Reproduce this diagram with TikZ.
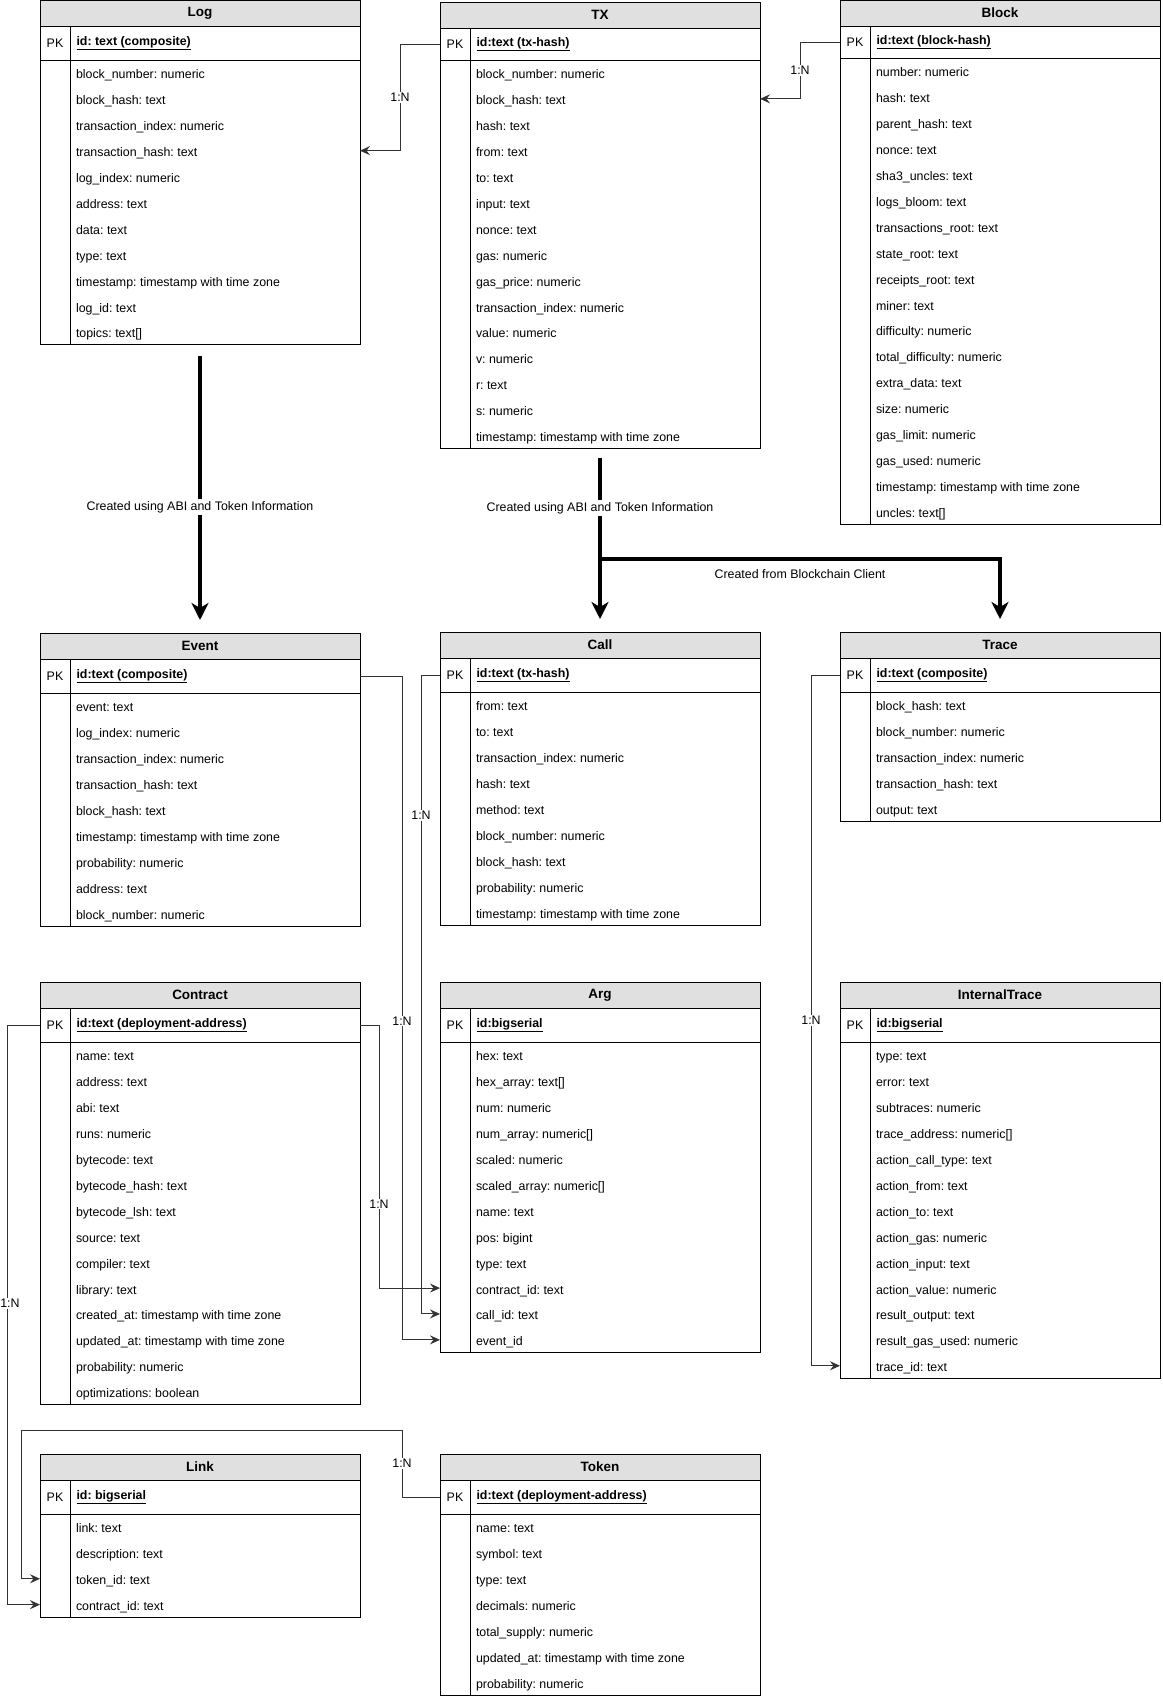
\documentclass[tikz,border=0pt]{standalone}
\usepackage{fontspec}
\setmainfont{Liberation Sans}
\usepackage{xcolor}
\usetikzlibrary{arrows.meta,positioning}
\definecolor{headgray}{HTML}{E0E0E0}
\definecolor{fkgray}{HTML}{333333}
\newcommand{\fieldfont}{\fontsize{12.4}{15}\selectfont}
\frenchspacing

% one ER table: [pk row height] name, top-left, title, key, fields
\newcommand{\ertable}[6][34]{%
  \node[tblhead] (#2) at #3 {#4};
  \node[tblpk,minimum height=#1pt] (#2pk) at (#2.south west) {};
  \node[pkmark] (#2pkl) at ([xshift=15pt]#2pk.west) {PK};
  \node[pkkey] (#2key) at ([xshift=36pt]#2pk.west) {\underline{\textbf{#5}}};
  \foreach \f [count=\i] in {#6} {
    \node[tblrow] (#2-\i) at ([xshift=36pt,yshift={-(\i-1)*25.9pt}]#2pk.south west) {\f};
    \xdef\ernrows{\i}
  }
  \draw (#2pk.south west) rectangle (#2.east |- #2-\ernrows.south);
  \draw ([xshift=30pt]#2pk.north west) -- ([xshift=-6pt]#2-\ernrows.south west);
}

\begin{document}
\begin{tikzpicture}[x=1pt, y=-1pt, line width=1pt,
    every node/.style={font=\fieldfont},
    tblhead/.style={draw, fill=headgray, anchor=north west, minimum width=320pt, minimum height=26pt, inner sep=0pt, outer sep=0pt, font=\fontsize{13.5}{16}\selectfont\bfseries},
    tblpk/.style={draw, anchor=north west, minimum width=320pt, inner sep=0pt, outer sep=0pt},
    pkmark/.style={inner sep=0pt},
    pkkey/.style={anchor=west, inner sep=0pt},
    tblrow/.style={anchor=north west, minimum height=25.9pt, inner sep=0pt, outer sep=0pt, text height=12pt, text depth=0pt},
    fk/.style={draw=fkgray, -{Stealth[length=10pt,width=9pt,inset=3.5pt]}},
    card/.style={fill=white, inner sep=1pt},
    flow/.style={line width=4pt, -{Stealth[length=17pt,width=17pt,inset=5pt]}},
    flowlab/.style={fill=white, inner sep=2pt}]
  \useasboundingbox (0,0) rectangle (1162,1697);

  \ertable{log}{(40,0)}{Log}{id: text (composite)}{block\_number: numeric, block\_hash: text, transaction\_index: numeric, transaction\_hash: text, log\_index: numeric, address: text, data: text, type: text, timestamp: timestamp with time zone, log\_id: text, topics: text[]}
  \ertable[32]{tx}{(440,2)}{TX}{id:text (tx-hash)}{block\_number: numeric, block\_hash: text, hash: text, from: text, to: text, input: text, nonce: text, gas: numeric, gas\_price: numeric, transaction\_index: numeric, value: numeric, v: numeric, r: text, s: numeric, timestamp: timestamp with time zone}
  \ertable[32]{block}{(840,0)}{Block}{id:text (block-hash)}{number: numeric, hash: text, parent\_hash: text, nonce: text, sha3\_uncles: text, logs\_bloom: text, transactions\_root: text, state\_root: text, receipts\_root: text, miner: text, difficulty: numeric, total\_difficulty: numeric, extra\_data: text, size: numeric, gas\_limit: numeric, gas\_used: numeric, timestamp: timestamp with time zone, uncles: text[]}

  \ertable{event}{(40,633)}{Event}{id:text (composite)}{event: text, log\_index: numeric, transaction\_index: numeric, transaction\_hash: text, block\_hash: text, timestamp: timestamp with time zone, probability: numeric, address: text, block\_number: numeric}
  \ertable{call}{(440,632)}{Call}{id:text (tx-hash)}{from: text, to: text, transaction\_index: numeric, hash: text, method: text, block\_number: numeric, block\_hash: text, probability: numeric, timestamp: timestamp with time zone}
  \ertable{trace}{(840,632)}{Trace}{id:text (composite)}{block\_hash: text, block\_number: numeric, transaction\_index: numeric, transaction\_hash: text, output: text}

  \ertable{contract}{(40,982)}{Contract}{id:text (deployment-address)}{name: text, address: text, abi: text, runs: numeric, bytecode: text, bytecode\_hash: text, bytecode\_lsh: text, source: text, compiler: text, library: text, created\_at: timestamp with time zone, updated\_at: timestamp with time zone, probability: numeric, optimizations: boolean}
  \ertable{arg}{(440,982)}{Arg}{id:bigserial}{hex: text, hex\_array: text[], num: numeric, num\_array: numeric[], scaled: numeric, scaled\_array: numeric[], name: text, pos: bigint, type: text, contract\_id: text, call\_id: text, event\_id}
  \ertable{itrace}{(840,982)}{InternalTrace}{id:bigserial}{type: text, error: text, subtraces: numeric, trace\_address: numeric[], action\_call\_type: text, action\_from: text, action\_to: text, action\_gas: numeric, action\_input: text, action\_value: numeric, result\_output: text, result\_gas\_used: numeric, trace\_id: text}

  \ertable{link}{(40,1454)}{Link}{id: bigserial}{link: text, description: text, token\_id: text, contract\_id: text}
  \ertable{token}{(440,1454)}{Token}{id:text (deployment-address)}{name: text, symbol: text, type: text, decimals: numeric, total\_supply: numeric, updated\_at: timestamp with time zone, probability: numeric}

  \draw[fk] (txpk.west) -- ++(-40,0) |- node[card,pos=0.25] (ntxlog) {1:N} (log-4 -| log.east);
  \draw[fk] (blockpk.west) -- ++(-40,0) |- node[card,pos=0.25] (nblocktx) {1:N} (tx-2 -| tx.east);
  \draw[fk] (eventpk.east) -- ++(42,0) |- node[card,pos=0.26] (neventarg) {1:N} (arg-12 -| arg.west);
  \draw[fk] (callpk.west) -- ++(-19,0) |- node[card,pos=0.11] (ncallarg) {1:N} (arg-11 -| arg.west);
  \draw[fk] (contractpk.east) -- ++(19,0) |- node[card,pos=0.34] (ncontractarg) {1:N} (arg-10 -| arg.west);
  \draw[fk] (contractpk.west) -- ++(-33,0) |- node[card,pos=0.24,xshift=3pt] (ncontractlink) {1:N} (link-4 -| link.west);
  \draw[fk] (tokenpk.west) -- ++(-38,0) -- node[card] (ntokenlink) {1:N} ++(0,-67) -- ++(-381,0) |- (link-3 -| link.west);
  \draw[fk] (tracepk.west) -- ++(-29,0) |- node[card,pos=0.25] (ntraceitrace) {1:N} (itrace-13 -| itrace.west);

  \draw[flow, shorten <=11pt, shorten >=13pt] (log-11.south -| log) -- node[flowlab,pos=0.563] (abilog) {Created using ABI and Token Information} (event);
  \draw[flow, shorten <=9pt, shorten >=13pt] (tx-15.south -| tx) -- ++(0,110) -| node[pos=0.25,below=9pt,inner sep=0pt] (clientlab) {Created from Blockchain Client} (trace);
  \draw[flow, shorten <=9pt, shorten >=13pt] (tx-15.south -| tx) -- node[flowlab,pos=0.324] (abitx) {Created using ABI and Token Information} (call);
\end{tikzpicture}
\end{document}
